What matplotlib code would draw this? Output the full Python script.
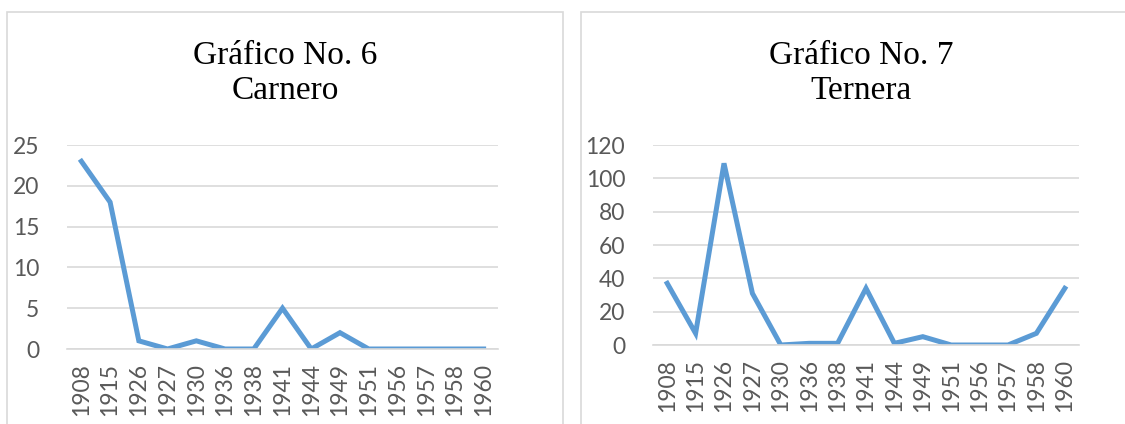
import matplotlib
matplotlib.use('Agg')
import matplotlib.pyplot as plt
from matplotlib.patches import Rectangle

years = ['1908', '1915', '1926', '1927', '1930', '1936', '1938', '1941',
         '1944', '1949', '1951', '1956', '1957', '1958', '1960']
carnero = [23, 18, 1, 0, 1, 0, 0, 5, 0, 2, 0, 0, 0, 0, 0]
ternera = [37, 7, 109, 31, 0, 1, 1, 34, 1, 5, 0, 0, 0, 7, 34]

titles = ['Gráfico No. 6\nCarnero', 'Gráfico No. 7\nTernera']
yticks_list = [[0, 5, 10, 15, 20, 25], [0, 20, 40, 60, 80, 100, 120]]

W, H = 1125, 424
fig = plt.figure(figsize=(W / 100, H / 100), dpi=100)

line_col = '#5B9BD5'
grid_col = '#D9D9D9'
text_col = '#595959'

# panel frames (x0, x1 in px)
for x0, x1 in [(7, 563), (581, 1140)]:
    fig.patches.append(Rectangle((x0 / W, -0.1), (x1 - x0) / W, (H - 12) / H + 0.1,
                                 transform=fig.transFigure, fill=False,
                                 edgecolor=grid_col, linewidth=1.2))

# axes boxes in px: left, right, top, bottom
boxes = [(67, 498, 145, 349), (653, 1079, 145, 345)]
title_x = [285, 861]

for i, (vals, box) in enumerate(zip([carnero, ternera], boxes)):
    l, r, t, b = box
    ax = fig.add_axes([l / W, 1 - b / H, (r - l) / W, (b - t) / H])
    ax.plot(range(len(years)), vals, color=line_col, linewidth=3.6,
            solid_joinstyle='miter')
    ax.set_xlim(-0.5, len(years) - 0.5)
    yt = yticks_list[i]
    ax.set_ylim(yt[0], yt[-1])
    ax.set_yticks(yt)
    ax.set_xticks(range(len(years)))
    ax.set_xticklabels(years, rotation=90)
    for s in ['top', 'right', 'left']:
        ax.spines[s].set_visible(False)
    ax.spines['bottom'].set_color(grid_col)
    ax.spines['bottom'].set_linewidth(1.2)
    ax.grid(axis='y', color=grid_col, linewidth=1.2)
    ax.set_axisbelow(True)
    ax.tick_params(length=0, labelcolor=text_col, labelsize=16.5)
    ax.tick_params(axis='x', pad=10)
    ax.tick_params(axis='y', pad=20)
    for lab in ax.get_xticklabels() + ax.get_yticklabels():
        lab.set_fontfamily('Lato')
    fig.text(title_x[i] / W, 1 - 73 / H, titles[i], ha='center', va='center',
             fontsize=24, family='Liberation Serif', color='black',
             linespacing=1.2)

fig.savefig('out.png', dpi=100)
